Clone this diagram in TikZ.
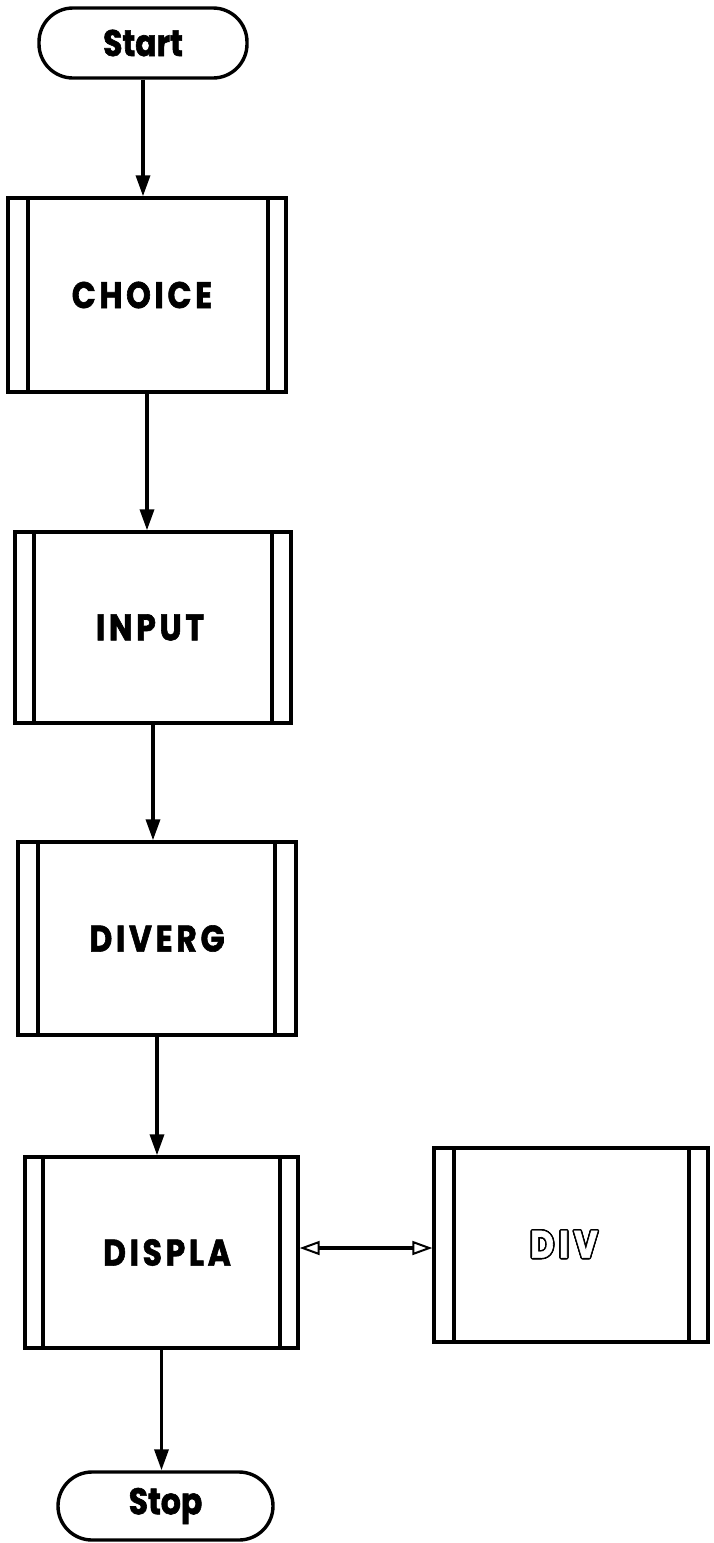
\documentclass[tikz,border=0pt]{standalone}
\usepackage{fontspec}
\setmainfont{Poppins}[FakeStretch=0.85, BoldFeatures={FakeBold=1.6}]
\usepackage{contour}
\contourlength{1.5pt}
\usetikzlibrary{arrows.meta}
\begin{document}
\begin{tikzpicture}[x=1pt,y=-1pt,
  lw/.style={line width=3.4pt},
  term/.style={draw, lw, rounded corners=34pt, inner sep=0pt,
    font=\fontsize{37}{40}\selectfont\bfseries},
  proc/.style n args={4}{draw, lw, inner sep=0pt,
    minimum width=#1, minimum height=#2,
    font=\fontsize{37}{40}\selectfont\bfseries\addfontfeature{LetterSpace=10},
    path picture={
      \draw[lw] ([xshift=#3]path picture bounding box.north west) -- ([xshift=#3]path picture bounding box.south west);
      \draw[lw] ([xshift=-#4]path picture bounding box.north east) -- ([xshift=-#4]path picture bounding box.south east);
    }},
  flow/.style={lw, -{Triangle[length=21pt,width=14pt]}},
  both/.style={line width=3.2pt, {Triangle[open,length=20pt,width=14pt,line width=2pt]}-{Triangle[open,length=20pt,width=14pt,line width=2pt]}}
]
\fill[white] (0,0) rectangle (713,1543);
\useasboundingbox (0,0) rectangle (713,1543);

\node[term, minimum width=208pt, minimum height=70pt] (start) at (143,43) {Start};
\node[proc={278pt}{194pt}{20pt}{18pt}] (choice) at (147,295) {CHOICE\hspace*{10pt}};
\node[proc={276pt}{191pt}{19pt}{19pt}] (input) at (153,627.5) {INPUT\hspace*{6pt}};
\node[proc={278pt}{193pt}{20pt}{21pt}] (diverg) at (157,938.5) {DIVERG};
\node[proc={273pt}{191pt}{18pt}{18pt}] (displa) at (161.5,1252.5) {\hspace*{11pt}DISPLA};
\node[proc={274pt}{194pt}{20pt}{19pt}, font=\fontsize{38}{40}\selectfont\bfseries\addfontfeature{LetterSpace=14}] (div) at (571,1245) {\contour{black}{\textcolor{white}{DIV}}\hspace*{14pt}};
\node[term, minimum width=215pt, minimum height=68pt] (stop) at (165.5,1506) {Stop};

\draw[flow] (start.south) -- (start.south |- choice.north);
\draw[flow] (choice.south) -- (choice.south |- input.north);
\draw[flow] (input.south) -- (input.south |- diverg.north);
\draw[flow] (diverg.south) -- (diverg.south |- displa.north);
\draw[flow] (displa.south) -- (displa.south |- stop.north);
\draw[both] ([yshift=4.5pt]displa.east) -- ([yshift=4.5pt]displa.east -| div.west);
\end{tikzpicture}
\end{document}
